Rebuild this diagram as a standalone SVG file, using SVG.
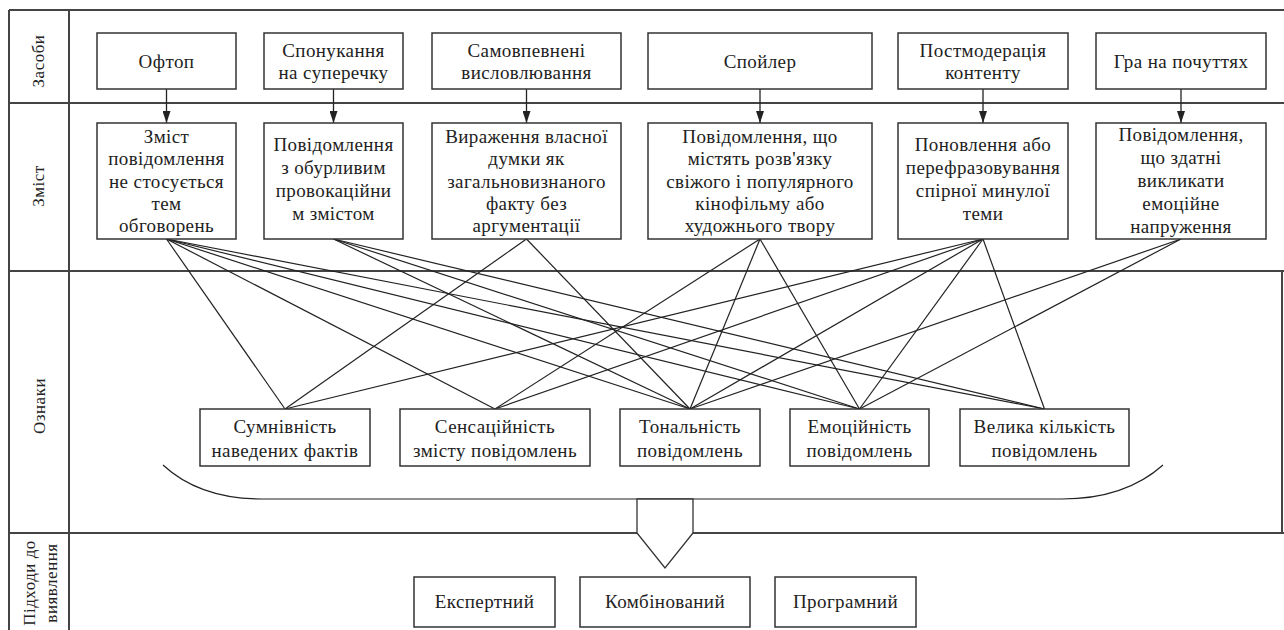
<svg xmlns="http://www.w3.org/2000/svg" width="1284" height="630" viewBox="0 0 1284 630">
<defs>
<style>
.frame{stroke:#444;stroke-width:2;fill:none}
.box{fill:#fff;stroke:#333;stroke-width:1.5}
.t{font-family:"Liberation Serif","Times New Roman","DejaVu Serif",serif;font-size:19px;letter-spacing:0.4px;fill:#222;text-anchor:middle}
.lab{font-family:"Liberation Serif","Times New Roman","DejaVu Serif",serif;font-size:17px;letter-spacing:0.5px;fill:#222;text-anchor:middle}
.con{stroke:#222;stroke-width:1.2;fill:none}
.arr{stroke:#222;stroke-width:1.3;fill:none}
</style>
<marker id="ah" viewBox="0 0 8 12" refX="4" refY="12" markerWidth="8" markerHeight="12" markerUnits="userSpaceOnUse" orient="0">
<path d="M0,0 L8,0 L4,12 z" fill="#222"/>
</marker>
</defs>
<rect width="1284" height="630" fill="#fff"/>

<g id="frame">
<line class="frame" x1="9" y1="10" x2="1284" y2="10"/>
<line class="frame" x1="9" y1="103" x2="1284" y2="103"/>
<line class="frame" x1="9" y1="271" x2="1284" y2="271"/>
<line class="frame" x1="9" y1="533" x2="1284" y2="533"/>
<line class="frame" x1="9" y1="10" x2="9" y2="630"/>
<line class="frame" x1="69" y1="10" x2="69" y2="630"/>
<line class="frame" x1="1282" y1="271" x2="1282" y2="533"/>
</g>

<g id="lane-labels">
<text class="lab" transform="translate(44,61) rotate(-90)">Засоби</text>
<text class="lab" transform="translate(44,186) rotate(-90)">Зміст</text>
<text class="lab" transform="translate(45,406) rotate(-90)">Ознаки</text>
<text class="lab" transform="translate(35,583) rotate(-90)"><tspan x="0" y="0">Підходи до</tspan><tspan x="0" y="22">виявлення</tspan></text>
</g>

<g id="connectors">
<line class="arr" x1="166.5" y1="89" x2="166.5" y2="123" marker-end="url(#ah)"/>
<line class="arr" x1="333.5" y1="89" x2="333.5" y2="123" marker-end="url(#ah)"/>
<line class="arr" x1="526.5" y1="89" x2="526.5" y2="123" marker-end="url(#ah)"/>
<line class="arr" x1="760" y1="89" x2="760" y2="123" marker-end="url(#ah)"/>
<line class="arr" x1="983" y1="89" x2="983" y2="123" marker-end="url(#ah)"/>
<line class="arr" x1="1181" y1="89" x2="1181" y2="123" marker-end="url(#ah)"/>

<line class="con" x1="166.5" y1="239" x2="285" y2="409"/>
<line class="con" x1="166.5" y1="239" x2="495" y2="409"/>
<line class="con" x1="166.5" y1="239" x2="690" y2="409"/>
<line class="con" x1="166.5" y1="239" x2="859.5" y2="409"/>
<line class="con" x1="166.5" y1="239" x2="1044.5" y2="409"/>
<line class="con" x1="333.5" y1="239" x2="690" y2="409"/>
<line class="con" x1="333.5" y1="239" x2="859.5" y2="409"/>
<line class="con" x1="333.5" y1="239" x2="1044.5" y2="409"/>
<line class="con" x1="526.5" y1="239" x2="285" y2="409"/>
<line class="con" x1="526.5" y1="239" x2="690" y2="409"/>
<line class="con" x1="760" y1="239" x2="495" y2="409"/>
<line class="con" x1="760" y1="239" x2="690" y2="409"/>
<line class="con" x1="760" y1="239" x2="859.5" y2="409"/>
<line class="con" x1="983" y1="239" x2="285" y2="409"/>
<line class="con" x1="983" y1="239" x2="495" y2="409"/>
<line class="con" x1="983" y1="239" x2="690" y2="409"/>
<line class="con" x1="983" y1="239" x2="859.5" y2="409"/>
<line class="con" x1="983" y1="239" x2="1044.5" y2="409"/>
<line class="con" x1="1181" y1="239" x2="690" y2="409"/>
<line class="con" x1="1181" y1="239" x2="859.5" y2="409"/>

<path class="con" d="M163,465 C190,490 225,499 262,499 L1062,499 C1100,499 1135,490 1163,465"/>
<polygon points="637,499 693,499 693,533 665,568 637,533" fill="#fff" stroke="#333" stroke-width="1.3"/>
</g>

<g id="z1"><rect class="box" x="97" y="33" width="139" height="56"/><text class="t" x="166.5" y="68">Офтоп</text></g>
<g id="z2"><rect class="box" x="264" y="33" width="139" height="56"/><text class="t" x="333.5" y="57">Спонукання</text><text class="t" x="333.5" y="79">на суперечку</text></g>
<g id="z3"><rect class="box" x="432" y="33" width="189" height="56"/><text class="t" x="526.5" y="57">Самовпевнені</text><text class="t" x="526.5" y="79">висловлювання</text></g>
<g id="z4"><rect class="box" x="648" y="33" width="224" height="56"/><text class="t" x="760" y="68">Спойлер</text></g>
<g id="z5"><rect class="box" x="898" y="33" width="170" height="56"/><text class="t" x="983" y="57">Постмодерація</text><text class="t" x="983" y="79">контенту</text></g>
<g id="z6"><rect class="box" x="1096" y="33" width="170" height="56"/><text class="t" x="1181" y="68">Гра на почуттях</text></g>

<g id="c1"><rect class="box" x="97" y="123" width="139" height="116"/>
<text class="t" x="166.5" y="143">Зміст</text><text class="t" x="166.5" y="165">повідомлення</text><text class="t" x="166.5" y="188">не стосується</text><text class="t" x="166.5" y="210">тем</text><text class="t" x="166.5" y="232">обговорень</text></g>
<g id="c2"><rect class="box" x="264" y="123" width="139" height="116"/>
<text class="t" x="333.5" y="151">Повідомлення</text><text class="t" x="333.5" y="174">з обурливим</text><text class="t" x="333.5" y="197">провокаційни</text><text class="t" x="333.5" y="220">м змістом</text></g>
<g id="c3"><rect class="box" x="432" y="123" width="189" height="116"/>
<text class="t" x="526.5" y="143">Вираження власної</text><text class="t" x="526.5" y="165">думки як</text><text class="t" x="526.5" y="188">загальновизнаного</text><text class="t" x="526.5" y="210">факту без</text><text class="t" x="526.5" y="232">аргументації</text></g>
<g id="c4"><rect class="box" x="648" y="123" width="224" height="116"/>
<text class="t" x="760" y="143">Повідомлення, що</text><text class="t" x="760" y="165">містять розв'язку</text><text class="t" x="760" y="188">свіжого і популярного</text><text class="t" x="760" y="210">кінофільму або</text><text class="t" x="760" y="232">художнього твору</text></g>
<g id="c5"><rect class="box" x="898" y="123" width="170" height="116"/>
<text class="t" x="983" y="151">Поновлення або</text><text class="t" x="983" y="174">перефразовування</text><text class="t" x="983" y="197">спірної минулої</text><text class="t" x="983" y="220">теми</text></g>
<g id="c6"><rect class="box" x="1096" y="123" width="170" height="116"/>
<text class="t" x="1181" y="141">Повідомлення,</text><text class="t" x="1181" y="164">що здатні</text><text class="t" x="1181" y="187">викликати</text><text class="t" x="1181" y="210">емоційне</text><text class="t" x="1181" y="233">напруження</text></g>

<g id="s1"><rect class="box" x="200" y="409" width="170" height="57"/><text class="t" x="285" y="433">Сумнівність</text><text class="t" x="285" y="457">наведених фактів</text></g>
<g id="s2"><rect class="box" x="400" y="409" width="190" height="57"/><text class="t" x="495" y="433">Сенсаційність</text><text class="t" x="495" y="457">змісту повідомлень</text></g>
<g id="s3"><rect class="box" x="620" y="409" width="140" height="57"/><text class="t" x="690" y="433">Тональність</text><text class="t" x="690" y="457">повідомлень</text></g>
<g id="s4"><rect class="box" x="790" y="409" width="139" height="57"/><text class="t" x="859.5" y="433">Емоційність</text><text class="t" x="859.5" y="457">повідомлень</text></g>
<g id="s5"><rect class="box" x="960" y="409" width="169" height="57"/><text class="t" x="1044.5" y="433">Велика кількість</text><text class="t" x="1044.5" y="457">повідомлень</text></g>

<g id="a1"><rect class="box" x="414" y="577" width="141" height="50"/><text class="t" x="484.5" y="608">Експертний</text></g>
<g id="a2"><rect class="box" x="580" y="577" width="170" height="50"/><text class="t" x="665" y="608">Комбінований</text></g>
<g id="a3"><rect class="box" x="775" y="577" width="141" height="50"/><text class="t" x="845.5" y="608">Програмний</text></g>
</svg>
